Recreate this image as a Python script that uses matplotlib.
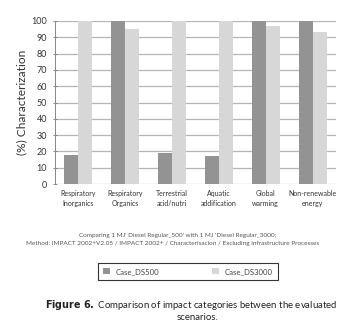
import matplotlib
matplotlib.use("Agg")
import matplotlib.pyplot as plt
import numpy as np

categories = ["Respiratory\nInorganics", "Respiratory\nOrganics", "Terrestrial\nacid/nutri",
              "Aquatic\naddification", "Global\nwarming", "Non-renewable\nenergy"]
case_ds500 = [18, 100, 19, 17, 100, 100]
case_ds3000 = [100, 95, 100, 100, 97, 93.5]
yticks = [0, 10, 20, 30, 40, 50, 60, 70, 80, 90, 100]

plt.rcParams['font.family'] = ['Lato', 'DejaVu Sans']

fig = plt.figure(figsize=(3.45, 3.28), dpi=100)
ax = fig.add_axes([0.159, 0.439, 0.815, 0.497])

x = np.arange(len(categories))
w = 0.30
dark = '#939393'
light = '#d7d7d7'
ax.bar(x - w / 2, case_ds500, w, color=dark, zorder=3, label='Case_DS500')
ax.bar(x + w / 2, case_ds3000, w, color=light, zorder=3, label='Case_DS3000')

ax.set_xlim(-0.5, len(categories) - 0.5)
ax.set_ylim(0, 100)
ax.set_yticks(yticks)
ax.set_yticklabels([str(t) for t in yticks], fontsize=6.5, color='#333333')
ax.set_xticks(x)
ax.set_xticklabels(categories, fontsize=5, color='#333333', linespacing=1.6)
ax.tick_params(axis='x', length=0, pad=4)
ax.tick_params(axis='y', length=3, width=0.6, color='#777777', pad=4, direction='inout')
ax.yaxis.grid(True, color='#b5b5b5', linewidth=0.9, zorder=0)
ax.set_axisbelow(True)
for s in ['top', 'right', 'bottom']:
    ax.spines[s].set_visible(False)
ax.spines['left'].set_color('#888888')
ax.spines['left'].set_linewidth(0.7)
ax.set_ylabel('(%) Characterization', fontsize=8.6, color='#333333', labelpad=3)

fig.text(0.515, 1 - 236 / 328, "Comparing 1 MJ' Diesel Regular_500' with 1 MJ 'Diesel Regular_3000;",
         ha='center', va='center', fontsize=4.6, color='#555555')
fig.text(0.499, 1 - 243.5 / 328, "Method: IMPACT 2002+V2.05 / IMPACT 2002+ / Characterisacion / Excluding infrastructure Processes",
         ha='center', va='center', fontsize=4.6, color='#555555')

leg = fig.legend(loc='center', bbox_to_anchor=(0.545, 1 - 271.5 / 328), ncol=2,
                 fontsize=5.6, frameon=True, fancybox=False, edgecolor='black',
                 handlelength=0.8, handleheight=0.8, columnspacing=6.8, handletextpad=0.8,
                 borderpad=0.65, borderaxespad=0)
leg.get_frame().set_linewidth(0.8)
for t in leg.get_texts():
    t.set_color('#444444')

fig.text(0.553, 1 - 305 / 328, r"$\bf{Figure\ 6.}$ Comparison of impact categories between the evaluated",
         ha='center', va='center', fontsize=6.9, color='#222222')
fig.text(0.573, 1 - 318 / 328, "scenarios.", ha='center', va='center', fontsize=6.9, color='#222222')

fig.savefig('out.png', dpi=100, facecolor='white')
